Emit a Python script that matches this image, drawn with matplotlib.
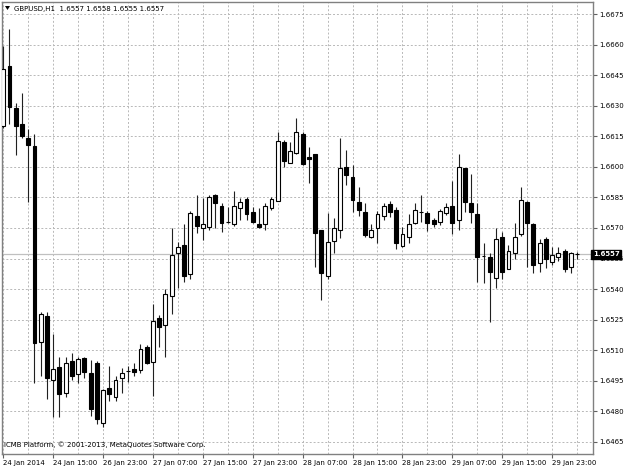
import matplotlib
matplotlib.use("Agg")
import matplotlib.pyplot as plt
from matplotlib.patches import Rectangle, Polygon

# GBPUSD H1 bars
opens = [1.66200, 1.66495, 1.66289, 1.66210, 1.66142, 1.66102, 1.65141, 1.65268, 1.64954, 1.65018,
         1.64890, 1.65047, 1.64984, 1.65062, 1.64989, 1.65038, 1.64743, 1.64915, 1.64871, 1.64964,
         1.64998, 1.65008, 1.65003, 1.65116, 1.65042, 1.65258, 1.65224, 1.65366, 1.65577, 1.65617,
         1.65474, 1.65759, 1.65700, 1.65705, 1.65862, 1.65808, 1.65729, 1.65720, 1.65798, 1.65842,
         1.65778, 1.65720, 1.65720, 1.65798, 1.65832, 1.66122, 1.66019, 1.66068, 1.66161, 1.66048,
         1.66063, 1.65690, 1.65464, 1.65636, 1.65690, 1.65999, 1.65950, 1.65828, 1.65778, 1.65656,
         1.65700, 1.65759, 1.65818, 1.65788, 1.65612, 1.65656, 1.65724, 1.65778, 1.65774, 1.65739,
         1.65729, 1.65774, 1.65808, 1.65739, 1.65994, 1.65823, 1.65769, 1.65563, 1.65558, 1.65455,
         1.65656, 1.65499, 1.65577, 1.65670, 1.65828, 1.65720, 1.65528, 1.65646, 1.65533, 1.65558,
         1.65587, 1.65509, 1.65570]
highs = [1.66593, 1.66676, 1.66313, 1.66362, 1.66186, 1.66161, 1.65288, 1.65288, 1.65180, 1.65067,
         1.65067, 1.65087, 1.65067, 1.65067, 1.65052, 1.65047, 1.64910, 1.65023, 1.64974, 1.65013,
         1.65023, 1.65038, 1.65131, 1.65126, 1.65327, 1.65273, 1.65401, 1.65700, 1.65631, 1.65720,
         1.65783, 1.65862, 1.65847, 1.65862, 1.65867, 1.65823, 1.65803, 1.65882, 1.65847, 1.65852,
         1.65803, 1.65798, 1.65823, 1.65852, 1.66171, 1.66132, 1.66122, 1.66240, 1.66171, 1.66097,
         1.66063, 1.65690, 1.65774, 1.65749, 1.66142, 1.66083, 1.66009, 1.65901, 1.65823, 1.65720,
         1.65783, 1.65823, 1.65832, 1.65803, 1.65705, 1.65769, 1.65823, 1.65862, 1.65783, 1.65749,
         1.65793, 1.65823, 1.65931, 1.66063, 1.65994, 1.65965, 1.65823, 1.65626, 1.65577, 1.65700,
         1.65680, 1.65617, 1.65724, 1.65901, 1.65832, 1.65724, 1.65646, 1.65656, 1.65607, 1.65607,
         1.65597, 1.65582, 1.65580]
lows = [1.66191, 1.66210, 1.66058, 1.66142, 1.65828, 1.64939, 1.64974, 1.64861, 1.64773, 1.64773,
        1.64871, 1.64954, 1.64939, 1.64964, 1.64777, 1.64738, 1.64723, 1.64851, 1.64851, 1.64890,
        1.64944, 1.64974, 1.64989, 1.65033, 1.64876, 1.65116, 1.65067, 1.65278, 1.65406, 1.65435,
        1.65450, 1.65675, 1.65641, 1.65690, 1.65700, 1.65680, 1.65724, 1.65710, 1.65739, 1.65739,
        1.65724, 1.65700, 1.65690, 1.65788, 1.65832, 1.65999, 1.66019, 1.66063, 1.66009, 1.65921,
        1.65509, 1.65347, 1.65450, 1.65577, 1.65651, 1.65911, 1.65778, 1.65759, 1.65656, 1.65651,
        1.65626, 1.65739, 1.65754, 1.65597, 1.65607, 1.65626, 1.65720, 1.65729, 1.65685, 1.65705,
        1.65715, 1.65764, 1.65670, 1.65690, 1.65778, 1.65724, 1.65435, 1.65430, 1.65239, 1.65406,
        1.65450, 1.65499, 1.65548, 1.65661, 1.65509, 1.65479, 1.65484, 1.65504, 1.65518, 1.65538,
        1.65484, 1.65479, 1.65550]
closes = [1.66480, 1.66294, 1.66200, 1.66151, 1.66107, 1.65136, 1.65278, 1.64964, 1.65008, 1.64885,
          1.65038, 1.64974, 1.65057, 1.64993, 1.64812, 1.64763, 1.64905, 1.64885, 1.64954, 1.64989,
          1.65000, 1.64993, 1.65106, 1.65038, 1.65244, 1.65214, 1.65376, 1.65567, 1.65607, 1.65464,
          1.65774, 1.65710, 1.65720, 1.65852, 1.65823, 1.65724, 1.65731, 1.65808, 1.65828, 1.65769,
          1.65729, 1.65705, 1.65808, 1.65842, 1.66127, 1.66029, 1.66078, 1.66171, 1.66014, 1.66039,
          1.65675, 1.65479, 1.65631, 1.65700, 1.65994, 1.65960, 1.65837, 1.65788, 1.65666, 1.65690,
          1.65769, 1.65808, 1.65778, 1.65626, 1.65670, 1.65720, 1.65788, 1.65780, 1.65724, 1.65720,
          1.65783, 1.65803, 1.65724, 1.65999, 1.65828, 1.65778, 1.65558, 1.65565, 1.65484, 1.65646,
          1.65484, 1.65587, 1.65656, 1.65837, 1.65724, 1.65518, 1.65626, 1.65548, 1.65567, 1.65577,
          1.65499, 1.65577, 1.65570]

price_ticks = [1.6675, 1.6660, 1.6645, 1.6630, 1.6615, 1.6600, 1.6585, 1.6570, 1.6555,
               1.6540, 1.6525, 1.6510, 1.6495, 1.6480, 1.6465]
time_labels = ["24 Jan 2014", "24 Jan 15:00", "26 Jan 23:00", "27 Jan 07:00", "27 Jan 15:00",
               "27 Jan 23:00", "28 Jan 07:00", "28 Jan 15:00", "28 Jan 23:00", "29 Jan 07:00",
               "29 Jan 15:00", "29 Jan 23:00"]
last_price = 1.6557
header = "GBPUSD,H1  1.6557 1.6558 1.6555 1.6557"
copyright_text = "ICMB Platform, \u00a9 2001-2013, MetaQuotes Software Corp."

plt.rcParams["font.family"] = "DejaVu Sans"

fig = plt.figure(figsize=(6.24, 4.68), dpi=100)
ax = fig.add_axes([2 / 624, 14 / 468, 591 / 624, 452 / 468])

n = len(opens)
xs = list(range(n))

# wicks
ax.vlines(xs, lows, highs, color="#202020", linewidth=0.8, zorder=3)

# bodies
for i in xs:
    o, c = opens[i], closes[i]
    bottom = min(o, c)
    height = max(abs(c - o), 1e-6)
    face = "white" if c >= o else "black"
    ax.bar(i, height, bottom=bottom, width=0.62, facecolor=face,
           edgecolor="black", linewidth=0.8, zorder=4)

# current price line
ax.axhline(last_price, color="#c0c0c0", linewidth=0.9, zorder=2)

ax.set_xlim(-0.2, 94.55)
ax.set_ylim(1.64591, 1.66809)

# axes / ticks
ax.yaxis.tick_right()
ax.set_yticks(price_ticks)
ax.set_yticklabels(["%.4f" % p for p in price_ticks])
ax.set_xticks(list(range(0, n, 8)))
ax.set_xticklabels(time_labels, ha="left")
ax.set_xticks(list(range(0, n, 4)), minor=True)
ax.tick_params(axis="both", which="major", direction="out", length=3, width=0.8,
               color="#606060", labelsize=5, pad=1.5, labelcolor="black")
ax.tick_params(axis="x", which="minor", length=0)
ax.tick_params(axis="x", which="major", pad=1)

ax.grid(which="both", axis="x", color="#b8b8b8", linestyle=(0, (2, 2)), linewidth=0.7, zorder=1)
ax.grid(which="major", axis="y", color="#b8b8b8", linestyle=(0, (2, 2)), linewidth=0.7, zorder=1)
ax.set_axisbelow(True)

for s in ax.spines.values():
    s.set_color("#808080")
    s.set_linewidth(1.0)

# current price box on the price scale
ax.text(1.0, last_price, "1.6557", transform=ax.get_yaxis_transform(),
        ha="left", va="center", fontsize=5, color="white", fontweight="bold",
        bbox=dict(boxstyle="square,pad=0.25", facecolor="black", edgecolor="black"),
        zorder=10, clip_on=False)

# header and copyright
fig.text(14 / 624, 1 - 9 / 468, header, fontsize=5, ha="left", va="center", color="black")
fig.patches.append(Polygon([[5 / 624, 1 - 6 / 468], [10 / 624, 1 - 6 / 468], [7.5 / 624, 1 - 10 / 468]],
                           closed=True, facecolor="black", edgecolor="none",
                           transform=fig.transFigure, figure=fig))
ax.text(0.004, 0.014, copyright_text, transform=ax.transAxes, fontsize=5,
        ha="left", va="bottom", color="black")

fig.savefig("out.png", dpi=100, facecolor="white")
